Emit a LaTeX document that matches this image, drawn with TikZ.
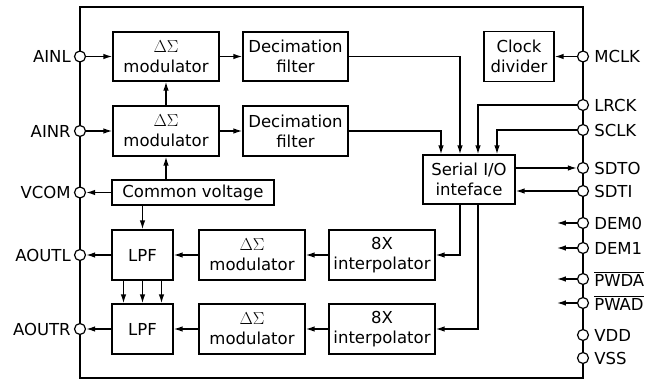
\documentclass[tikz,border=0pt]{standalone}
\usepackage{fontspec}
\setmainfont{DejaVu Sans}
\usetikzlibrary{arrows.meta,calc}
\begin{document}
\begin{tikzpicture}[x=1pt,y=-1pt,
  txt/.style={font=\fontsize{16.5}{20}\selectfont,text=black},
  blk/.style={txt,draw=black,line width=1.2pt,inner sep=0pt,align=center,fill=white},
  pinc/.style={circle,draw=black,line width=1.2pt,fill=white,minimum size=11pt,inner sep=0pt},
  lbll/.style={txt,inner sep=0pt,anchor=east,xshift=-3pt},
  lblr/.style={txt,inner sep=0pt,anchor=west,xshift=5pt},
  wire/.style={line width=1.4pt,draw=black},
  arr/.style={wire,-{Latex[length=9pt,width=5.5pt]}},
]
\useasboundingbox (0,0) rectangle (649,382);
% chip outline
\node[draw=black,line width=2pt,minimum width=503pt,minimum height=371pt,inner sep=0pt] (chip) at (331.5,192.5) {};

% blocks
\node[blk,minimum width=106pt,minimum height=49pt] (modA) at (166,56.5) {$\Delta\Sigma$\\modulator};
\node[blk,minimum width=105pt,minimum height=49pt] (decA) at (295.5,56.5) {Decimation\\filter};
\node[blk,minimum width=106pt,minimum height=50pt] (modB) at (166,131) {$\Delta\Sigma$\\modulator};
\node[blk,minimum width=105pt,minimum height=50pt] (decB) at (295.5,131) {Decimation\\filter};
\node[blk,minimum width=162pt,minimum height=25pt] (cv) at (193,192.5) {Common voltage};
\node[blk,minimum width=61pt,minimum height=50pt] (lpfA) at (142.5,255) {LPF};
\node[blk,minimum width=61pt,minimum height=50pt] (lpfB) at (142.5,329) {LPF};
\node[blk,minimum width=106pt,minimum height=50pt] (modC) at (252,255) {$\Delta\Sigma$\\modulator};
\node[blk,minimum width=106pt,minimum height=50pt] (modD) at (252,329) {$\Delta\Sigma$\\modulator};
\node[blk,minimum width=106pt,minimum height=50pt] (intA) at (382,255) {8X\\interpolator};
\node[blk,minimum width=106pt,minimum height=50pt] (intB) at (382,329) {8X\\interpolator};
\node[blk,minimum width=92pt,minimum height=49pt] (sio) at (469,179.5) {Serial I/O\\inteface};
\node[blk,minimum width=70pt,minimum height=50pt] (clk) at (519,56.5) {Clock\\divider};

% left pins
\node[pinc] (ainl) at (80,56.5) {};
\node[pinc] (ainr) at (80,131) {};
\node[pinc] (vcom) at (80,192.5) {};
\node[pinc] (aoutl) at (80,255) {};
\node[pinc] (aoutr) at (80,329) {};
\node[lbll] (ainlT) at (ainl.west) {AINL};
\node[lbll] (ainrT) at (ainr.west) {AINR};
\node[lbll] (vcomT) at (vcom.west) {VCOM};
\node[lbll] (aoutlT) at (aoutl.west) {AOUTL};
\node[lbll] (aoutrT) at (aoutr.west) {AOUTR};

% right pins
\node[pinc] (mclk) at (583,56.5) {};
\node[pinc] (lrck) at (583,105) {};
\node[pinc] (sclk) at (583,130) {};
\node[pinc] (sdto) at (583,168) {};
\node[pinc] (sdti) at (583,191) {};
\node[pinc] (dem0) at (583,223) {};
\node[pinc] (dem1) at (583,248) {};
\node[pinc] (pwda) at (583,279) {};
\node[pinc] (pwad) at (583,303) {};
\node[pinc] (vdd) at (583,335) {};
\node[pinc] (vss) at (583,358) {};
\node[lblr] (mclkT) at (mclk.east) {MCLK};
\node[lblr] (lrckT) at (lrck.east) {LRCK};
\node[lblr] (sclkT) at (sclk.east) {SCLK};
\node[lblr] (sdtoT) at (sdto.east) {SDTO};
\node[lblr] (sdtiT) at (sdti.east) {SDTI};
\node[lblr] (dem0T) at (dem0.east) {DEM0};
\node[lblr] (dem1T) at (dem1.east) {DEM1};
\node[lblr] (pwdaT) at (pwda.east) {$\overline{\hbox{PWDA}}$};
\node[lblr] (pwadT) at (pwad.east) {$\overline{\hbox{PWAD}}$};
\node[lblr] (vddT) at (vdd.east) {VDD};
\node[lblr] (vssT) at (vss.east) {VSS};

% ADC path
\draw[arr] (ainl) -- (modA);
\draw[arr] (ainr) -- (modB);
\draw[arr] (modA) -- (decA);
\draw[arr] (modB) -- (decB);
\draw[arr] (modB.north) -- (modA.south);
\draw[arr] (modB.south |- cv.north) -- (modB.south);
\draw[arr] (cv) -- (vcom);
\draw[arr] (lpfA.north |- cv.south) -- (lpfA.north);

% DAC path
\draw[arr] (lpfA) -- (aoutl);
\draw[arr] (lpfB) -- (aoutr);
\draw[arr] (modC) -- (lpfA);
\draw[arr] (modD) -- (lpfB);
\draw[arr] (intA) -- (modC);
\draw[arr] (intB) -- (modD);
\foreach \dx in {-19,0,19} {
  \draw[arr] ($(lpfA.south)+(\dx,0)$) -- ($(lpfB.north)+(\dx,0)$);
}

% serial interface
\draw[arr] (decA) -| ($(sio.north)+(-9,0)$);
\draw[arr] (decB) -| ($(sio.north)+(-28,0)$);
\draw[arr] (lrck) -| ($(sio.north)+(9,0)$);
\draw[arr] (sclk) -| ($(sio.north)+(28,0)$);
\draw[arr] (sio.east |- sdto) -- (sdto);
\draw[arr] (sdti) -- (sio.east |- sdti);
\draw[arr] ($(sio.south)+(-9,0)$) |- (intA);
\draw[arr] ($(sio.south)+(9,0)$) |- (intB);

% clock
\draw[arr] (mclk) -- (clk);

% control pins
\foreach \p in {dem0,dem1,pwda,pwad} {
  \draw[arr] (\p.west) -- ++(-20,0);
}
\end{tikzpicture}
\end{document}
